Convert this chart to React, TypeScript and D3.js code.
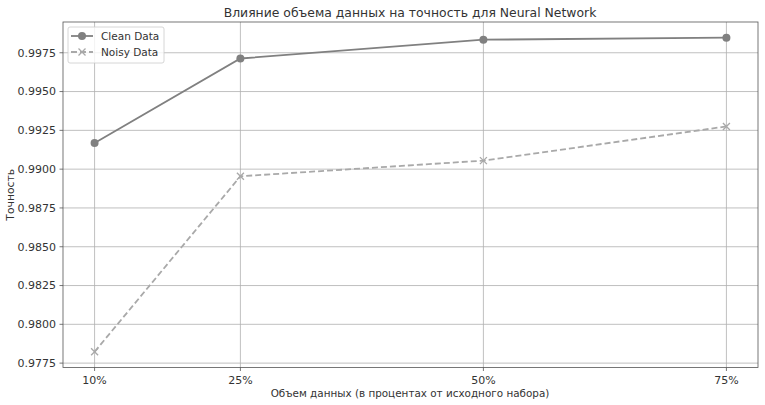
import React from "react";
import * as d3 from "d3";

const categories = [10, 25, 50, 75];
const tickLabels = ["10%", "25%", "50%", "75%"];
const cleanValues = [0.99169, 0.99713, 0.99834, 0.99847];
const noisyValues = [0.97823, 0.98954, 0.99055, 0.99275];
const yTicks = [0.9775, 0.98, 0.9825, 0.985, 0.9875, 0.99, 0.9925, 0.995, 0.9975];

const W = 765, H = 405;
const M = { left: 63, right: 7, top: 22, bottom: 37.5 };
const FONT = "DejaVu Sans, sans-serif";

export default function App() {
  const x = d3.scaleLinear().domain([6.75, 78.25]).range([M.left, W - M.right]);
  const yMin = d3.min(noisyValues)!;
  const yMax = d3.max(cleanValues)!;
  const pad = (yMax - yMin) * 0.05;
  const y = d3.scaleLinear().domain([yMin - pad, yMax + pad]).range([H - M.bottom, M.top]);
  const line = d3.line<number>().x((_, i) => x(categories[i])).y((d) => y(d));
  const x0 = M.left, x1 = W - M.right, y0 = M.top, y1 = H - M.bottom;
  const cleanColor = "#808080";
  const noisyColor = "#a9a9a9";
  const textColor = "#333";
  const cross = (cx: number, cy: number, k: number) => (
    <g key={k} stroke={noisyColor} strokeWidth={1.3}>
      <line x1={cx - 3.5} y1={cy - 3.5} x2={cx + 3.5} y2={cy + 3.5} />
      <line x1={cx - 3.5} y1={cy + 3.5} x2={cx + 3.5} y2={cy - 3.5} />
    </g>
  );
  return (
    <svg width={W} height={H} style={{ position: "absolute", left: 0, top: 0 }} fontFamily={FONT}>
      <rect width={W} height={H} fill="white" />
      {/* grid */}
      {yTicks.map((t) => (
        <line key={"gy" + t} x1={x0} x2={x1} y1={y(t)} y2={y(t)} stroke="#b0b0b0" strokeWidth={0.8} />
      ))}
      {categories.map((c) => (
        <line key={"gx" + c} x1={x(c)} x2={x(c)} y1={y0} y2={y1} stroke="#b0b0b0" strokeWidth={0.8} />
      ))}
      {/* spines */}
      <rect x={x0} y={y0} width={x1 - x0} height={y1 - y0} fill="none" stroke="#555" strokeWidth={0.8} />
      {/* y ticks */}
      {yTicks.map((t) => (
        <g key={"ty" + t}>
          <line x1={x0 - 3.5} x2={x0} y1={y(t)} y2={y(t)} stroke="#555" strokeWidth={0.8} />
          <text x={x0 - 7} y={y(t)} dy="0.35em" textAnchor="end" fontSize={11} fill={textColor}>
            {t.toFixed(4)}
          </text>
        </g>
      ))}
      {/* x ticks */}
      {categories.map((c, i) => (
        <g key={"tx" + c}>
          <line x1={x(c)} x2={x(c)} y1={y1} y2={y1 + 3.5} stroke="#555" strokeWidth={0.8} />
          <text x={x(c)} y={y1 + 16} textAnchor="middle" fontSize={11} fill={textColor}>
            {tickLabels[i]}
          </text>
        </g>
      ))}
      {/* lines */}
      <path d={line(noisyValues)!} fill="none" stroke={noisyColor} strokeWidth={1.8} strokeDasharray="6,3" />
      {noisyValues.map((v, i) => cross(x(categories[i]), y(v), i))}
      <path d={line(cleanValues)!} fill="none" stroke={cleanColor} strokeWidth={1.8} />
      {cleanValues.map((v, i) => (
        <circle key={"c" + i} cx={x(categories[i])} cy={y(v)} r={4} fill={cleanColor} />
      ))}
      {/* title & labels */}
      <text x={410} y={17} textAnchor="middle" fontSize={12.4} fill={textColor}>
        Влияние объема данных на точность для Neural Network
      </text>
      <text x={410} y={397} textAnchor="middle" fontSize={10.4} fill={textColor}>
        Объем данных (в процентах от исходного набора)
      </text>
      <text transform={`translate(14,${(y0 + y1) / 2}) rotate(-90)`} textAnchor="middle" fontSize={10.8} fill={textColor}>
        Точность
      </text>
      {/* legend */}
      <g>
        <rect x={68} y={27} width={96} height={36} rx={2} fill="white" fillOpacity={0.8} stroke="#ccc" strokeWidth={0.8} />
        <line x1={71} x2={93} y1={36} y2={36} stroke={cleanColor} strokeWidth={1.8} />
        <circle cx={82} cy={36} r={4} fill={cleanColor} />
        <text x={101} y={36} dy="0.35em" fontSize={10.5} fill={textColor}>Clean Data</text>
        <line x1={71} x2={93} y1={52} y2={52} stroke={noisyColor} strokeWidth={1.8} strokeDasharray="6,3" />
        {cross(82, 52, 99)}
        <text x={101} y={52} dy="0.35em" fontSize={10.5} fill={textColor}>Noisy Data</text>
      </g>
    </svg>
  );
}
